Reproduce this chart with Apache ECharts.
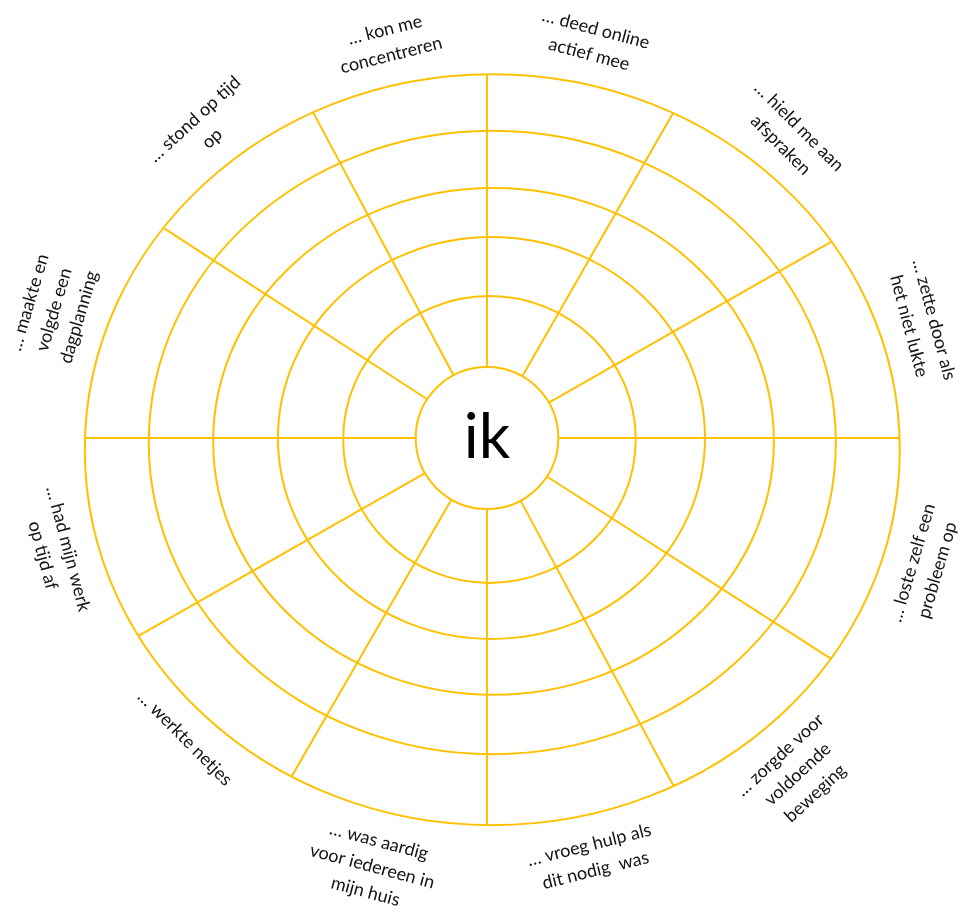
<!DOCTYPE html>
<html lang="nl">
<head>
  <meta charset="UTF-8">
  <title>ik</title>
  <script src="https://cdn.jsdelivr.net/npm/echarts@6.0.0/dist/echarts.min.js"></script>
  <style>
    html, body { margin: 0; padding: 0; background: #fff; }
    #chart { width: 962px; height: 913px; }
  </style>
</head>
<body>
  <div id="chart"></div>
  <script>
    // sectors, clockwise from the top
    var categories = [
      '… deed online\nactief mee',
      '… hield me aan\nafspraken',
      '… zette door als\nhet niet lukte',
      '… loste zelf een\nprobleem op',
      '… zorgde voor\nvoldoende\nbeweging',
      '… vroeg hulp als\ndit nodig  was',
      '… was aardig\nvoor iedereen in\nmijn huis',
      '… werkte netjes',
      '… had mijn werk\nop tijd af',
      '… maakte en\nvolgde een\ndagplanning',
      '… stond op tijd\nop',
      '… kon me\nconcentreren'
    ];
    // width of each sector in degrees (hand drawn, not quite equal)
    var sectorSpan = [29.8, 30.5, 29.7, 32.7, 29.1, 28.2, 30, 30.4, 29.6, 33, 28.9, 28.1];
    var centerLabel = 'ik';

    // rings, inner circle first (outer ring = 100)
    var ringCx = [0, 0.6, 1.1, 1.6, 1.3, 1.3];
    var ringCy = [0, -0.4, 0, -0.9, -1.2, -3.1];
    var ringRx = [17.5, 35.9, 52.4, 68.8, 84.3, 100];
    var ringRy = [18.9, 38.2, 53.5, 67.5, 83.0, 100];

    var yellow = '#FFC000';
    var labelGap = 17;

    var chart = echarts.init(document.getElementById('chart'));

    function ringPx(api, k) {
      return {
        c: api.coord([ringCx[k], ringCy[k]]),
        s: api.size([ringRx[k], ringRy[k]])
      };
    }

    // distance from p0 along angle a to the ellipse
    function hit(p0, ring, a) {
      var ux = Math.cos(a), uy = -Math.sin(a);
      var A2 = ring.s[0] * ring.s[0], B2 = ring.s[1] * ring.s[1];
      var dx = p0[0] - ring.c[0], dy = p0[1] - ring.c[1];
      var qa = ux * ux / A2 + uy * uy / B2;
      var qb = 2 * (dx * ux / A2 + dy * uy / B2);
      var qc = dx * dx / A2 + dy * dy / B2 - 1;
      return (-qb + Math.sqrt(qb * qb - 4 * qa * qc)) / (2 * qa);
    }

    function renderRing(params, api) {
      var r = ringPx(api, params.dataIndex);
      return {
        type: 'ellipse',
        shape: { cx: r.c[0], cy: r.c[1], rx: r.s[0], ry: r.s[1] },
        style: { fill: 'none', stroke: yellow, lineWidth: 2 }
      };
    }

    function renderSector(params, api) {
      var i = params.dataIndex;
      var p0 = api.coord([0, 0]);
      var inner = ringPx(api, 0);
      var outer = ringPx(api, ringRx.length - 1);
      var start = 90;
      for (var k = 0; k < i; k++) start -= sectorSpan[k];
      var a0 = start * Math.PI / 180;
      var am = (start - sectorSpan[i] / 2) * Math.PI / 180;
      var t0 = hit(p0, inner, a0);
      var t1 = hit(p0, outer, a0);
      var up = Math.sin(am) > 0;
      var tl = hit(p0, outer, am) + labelGap;
      return {
        type: 'group',
        children: [{
          type: 'line',
          shape: {
            x1: p0[0] + t0 * Math.cos(a0), y1: p0[1] - t0 * Math.sin(a0),
            x2: p0[0] + t1 * Math.cos(a0), y2: p0[1] - t1 * Math.sin(a0)
          },
          style: { stroke: yellow, lineWidth: 2 }
        }, {
          type: 'text',
          x: p0[0] + tl * Math.cos(am),
          y: p0[1] - tl * Math.sin(am),
          rotation: up ? am - Math.PI / 2 : am + Math.PI / 2,
          style: {
            text: categories[i],
            fill: '#141414',
            font: '18px Lato',
            lineHeight: 26,
            align: 'center',
            verticalAlign: up ? 'bottom' : 'top'
          }
        }]
      };
    }

    function renderCenter(params, api) {
      var p = api.coord([0, 0]);
      return {
        type: 'text',
        x: p[0],
        y: p[1],
        style: {
          text: centerLabel,
          fill: '#000',
          font: '62px Lato',
          align: 'center',
          verticalAlign: 'middle'
        }
      };
    }

    chart.setOption({
      animation: false,
      grid: { left: 79.5, width: 815, top: 62.5, height: 751 },
      xAxis: { type: 'value', min: -100, max: 100, show: false },
      yAxis: { type: 'value', min: -100, max: 100, show: false },
      series: [
        {
          type: 'custom',
          renderItem: renderRing,
          data: ringRx.map(function (v, k) { return [ringCx[k], ringCy[k], v, ringRy[k]]; }),
          silent: true
        },
        {
          type: 'custom',
          renderItem: renderSector,
          data: categories.map(function (c, i) { return [0, 0, sectorSpan[i]]; }),
          silent: true
        },
        {
          type: 'custom',
          renderItem: renderCenter,
          data: [[0, 0]],
          silent: true
        }
      ]
    });
  </script>
</body>
</html>
